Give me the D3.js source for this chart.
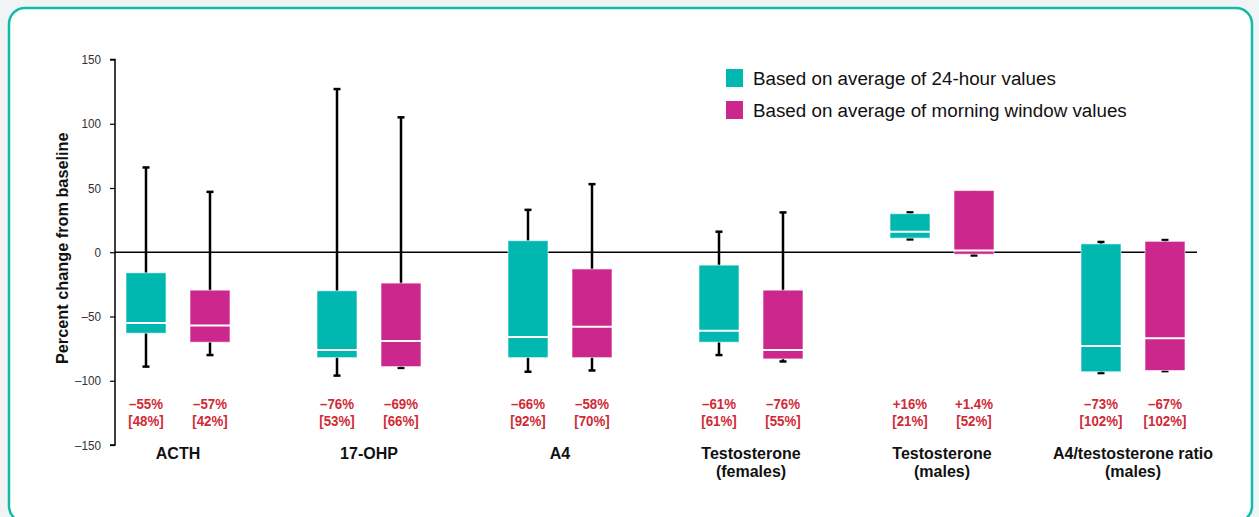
<!DOCTYPE html>
<html>
<head>
<meta charset="utf-8">
<script src="https://cdn.jsdelivr.net/npm/d3@7"></script>
<style>
  html, body { margin: 0; padding: 0; background: #f1f4f5; }
  svg { display: block; font-family: "Liberation Sans", Arial, sans-serif; }
</style>
</head>
<body>
<svg id="chart" width="1259" height="517"></svg>
<script>
// ---- data ----
const categories = ["ACTH", "17-OHP", "A4", "Testosterone\n(females)", "Testosterone\n(males)", "A4/testosterone ratio\n(males)"];
const seriesNames = ["Based on average of 24-hour values", "Based on average of morning window values"];
const seriesColors = ["#00b8b0", "#cc278c"];

// 24-hour series
const low24    = [-89, -96, -93, -80, 10, -94];
const q1_24    = [-63, -82, -82, -70, 11, -93];
const median24 = [-55, -76, -66, -61, 16, -73];
const q3_24    = [-16, -30, 9, -10, 30, 6.5];
const high24   = [66, 127, 33, 16, 31, 8];

// morning window series
const lowAM    = [-80, -90, -92, -85, -2.5, -92.5];
const q1AM     = [-70, -89, -82, -83, -1.5, -92];
const medianAM = [-57, -69, -58, -76, 1.4, -67];
const q3AM     = [-29.5, -24, -13, -29.5, 48, 8.5];
const highAM   = [47, 105, 53, 31, 48, 9.5];

const medianLabels24 = ["–55%", "–76%", "–66%", "–61%", "+16%", "–73%"];
const iqrLabels24    = ["[48%]", "[53%]", "[92%]", "[61%]", "[21%]", "[102%]"];
const medianLabelsAM = ["–57%", "–69%", "–58%", "–76%", "+1.4%", "–67%"];
const iqrLabelsAM    = ["[42%]", "[66%]", "[70%]", "[55%]", "[52%]", "[102%]"];

const yTicks = [150, 100, 50, 0, -50, -100, -150];

// ---- build ----
const svg = d3.select("#chart");

// card
svg.append("rect").attr("x", 9).attr("y", 8).attr("width", 1243).attr("height", 514)
  .attr("rx", 16).attr("fill", "#ffffff").attr("stroke", "#10bba9").attr("stroke-width", 2.5);

const y = d3.scaleLinear().domain([-150, 150]).range([445, 59.5]);
const x = d3.scalePoint().domain(categories).range([178, 1133]);
const xs = d3.scaleBand().domain([0, 1]).range([-64, 64]);
const boxW = 40;
const axisX = 115;

// y axis
const yAxis = d3.axisLeft(y).tickValues(yTicks).tickSize(5).tickPadding(6)
  .tickFormat(d => d < 0 ? "–" + Math.abs(d) : d);
const gy = svg.append("g").attr("transform", `translate(${axisX},0)`).call(yAxis);
gy.select(".domain").attr("stroke", "#000").attr("stroke-width", 1.5).attr("d", `M-5,${y(150)}H0V${y(-150)}H-5`);
gy.selectAll(".tick line").attr("stroke", "#000").attr("stroke-width", 1.2);
gy.selectAll(".tick text").attr("font-size", 13).attr("fill", "#333")
  .attr("font-family", "'Liberation Sans', Arial, sans-serif").attr("transform", "scale(0.9,1)")
  .attr("x", -14 / 0.9);

svg.append("text")
  .attr("transform", `translate(68,${y(0) - 4}) rotate(-90)`)
  .attr("text-anchor", "middle").attr("font-size", 16.3).attr("font-weight", "bold").attr("fill", "#111")
  .text("Percent change from baseline");

// zero line
svg.append("line").attr("x1", axisX).attr("x2", 1197).attr("y1", y(0)).attr("y2", y(0))
  .attr("stroke", "#000").attr("stroke-width", 1.5);

const series = [
  { low: low24, q1: q1_24, med: median24, q3: q3_24, high: high24, ml: medianLabels24, il: iqrLabels24 },
  { low: lowAM, q1: q1AM, med: medianAM, q3: q3AM, high: highAM, ml: medianLabelsAM, il: iqrLabelsAM }
];

series.forEach((s, si) => {
  const g = svg.append("g");
  categories.forEach((c, i) => {
    const cx = x(c) + xs(si) + xs.bandwidth() / 2;
    // whiskers
    g.append("line").attr("x1", cx).attr("x2", cx).attr("y1", y(s.high[i])).attr("y2", y(s.low[i]))
      .attr("stroke", "#000").attr("stroke-width", 2.5);
    const caps = [];
    if (s.high[i] > s.q3[i]) caps.push(s.high[i]);
    if (s.low[i] < s.q1[i]) caps.push(s.low[i]);
    caps.forEach(v => {
      g.append("line").attr("x1", cx - 3.5).attr("x2", cx + 3.5).attr("y1", y(v)).attr("y2", y(v))
        .attr("stroke", "#000").attr("stroke-width", 2.5);
    });
    // box
    g.append("rect").attr("x", cx - boxW / 2).attr("y", y(s.q3[i]))
      .attr("width", boxW).attr("height", Math.max(1, y(s.q1[i]) - y(s.q3[i])))
      .attr("fill", seriesColors[si]).attr("stroke", "#ffffff").attr("stroke-opacity", 0.6).attr("stroke-width", 1);
    // median
    g.append("line").attr("x1", cx - boxW / 2).attr("x2", cx + boxW / 2)
      .attr("y1", y(s.med[i])).attr("y2", y(s.med[i]))
      .attr("stroke", "#ffffff").attr("stroke-width", 2);
    // labels
    g.append("text").attr("x", cx).attr("y", 409).attr("text-anchor", "middle")
      .attr("font-size", 14).attr("font-weight", "bold").attr("fill", "#cf2a36")
      .attr("transform", `translate(${cx},0) scale(0.95,1) translate(${-cx},0)`).text(s.ml[i]);
    g.append("text").attr("x", cx).attr("y", 426).attr("text-anchor", "middle")
      .attr("font-size", 14).attr("font-weight", "bold").attr("fill", "#cf2a36")
      .attr("transform", `translate(${cx},0) scale(0.95,1) translate(${-cx},0)`).text(s.il[i]);
  });
});

// category labels
categories.forEach(c => {
  const lines = c.split("\n");
  const t = svg.append("text").attr("x", x(c)).attr("y", 459).attr("text-anchor", "middle")
    .attr("font-size", 16).attr("font-weight", "bold").attr("fill", "#111");
  lines.forEach((ln, k) => {
    t.append("tspan").attr("x", x(c)).attr("dy", k === 0 ? 0 : 18).text(ln);
  });
});

// legend
seriesNames.forEach((n, i) => {
  const ly = 69 + i * 32;
  svg.append("rect").attr("x", 726).attr("y", ly).attr("width", 17).attr("height", 18)
    .attr("fill", seriesColors[i]);
  svg.append("text").attr("x", 753).attr("y", ly + 16).attr("font-size", 18.8).attr("fill", "#111").text(n);
});
</script>
</body>
</html>
